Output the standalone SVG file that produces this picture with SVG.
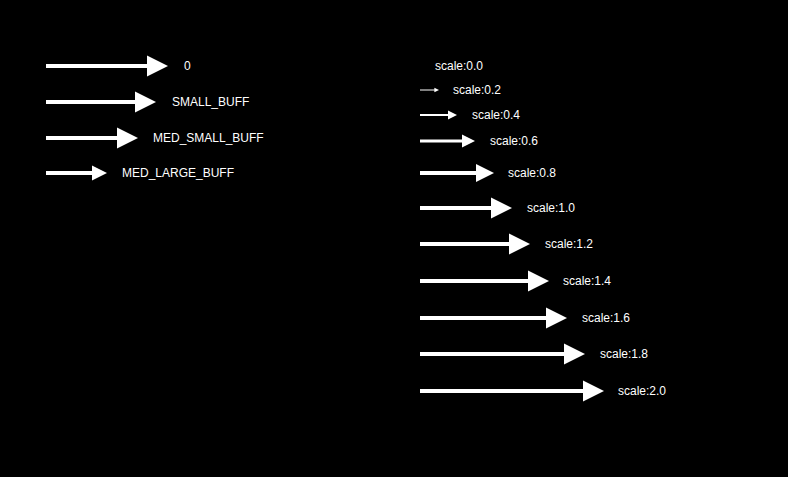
<svg xmlns="http://www.w3.org/2000/svg" width="788" height="477" viewBox="0 0 788 477">
<style>
.ln{stroke:#fff;stroke-width:4;fill:none}
.hd{fill:#fff}
text{font-family:"Liberation Sans",Arial,sans-serif;font-size:12px;fill:#fff}
</style>
<rect width="788" height="477" fill="#000"/>
<g id="buff-0"><line class="ln" x1="46" y1="66" x2="148" y2="66"/><polygon class="hd" points="147,55.5 168,66 147,76.5"/><text x="184" y="70.3">0</text></g>
<g id="buff-small"><line class="ln" x1="46" y1="102" x2="136" y2="102"/><polygon class="hd" points="135,91.5 156,102 135,112.5"/><text x="172" y="106.3">SMALL_BUFF</text></g>
<g id="buff-med-small"><line class="ln" x1="46" y1="138" x2="118" y2="138"/><polygon class="hd" points="117,127.5 138,138 117,148.5"/><text x="153" y="142.3">MED_SMALL_BUFF</text></g>
<g id="buff-med-large"><line class="ln" x1="46" y1="173" x2="93" y2="173"/><polygon class="hd" points="92,165.5 107,173 92,180.5"/><text x="122" y="177.3">MED_LARGE_BUFF</text></g>

<g id="scale-00"><text x="435" y="70.3">scale:0.0</text></g>
<g id="scale-02"><line class="ln" style="stroke-width:1" x1="420" y1="90" x2="435" y2="90"/><polygon class="hd" points="434.4,87.7 439,90 434.4,92.3"/><text x="453" y="94.3">scale:0.2</text></g>
<g id="scale-04"><line class="ln" style="stroke-width:2" x1="420" y1="115" x2="449" y2="115"/><polygon class="hd" points="448,110.5 457,115 448,119.5"/><text x="472" y="119.3">scale:0.4</text></g>
<g id="scale-06"><line class="ln" style="stroke-width:3" x1="420" y1="141" x2="463" y2="141"/><polygon class="hd" points="462,134.5 475,141 462,147.5"/><text x="490" y="145.3">scale:0.6</text></g>
<g id="scale-08"><line class="ln" x1="420" y1="173" x2="477" y2="173"/><polygon class="hd" points="476,164 494,173 476,182"/><text x="508" y="177.3">scale:0.8</text></g>
<g id="scale-10"><line class="ln" x1="420" y1="208" x2="492" y2="208"/><polygon class="hd" points="491,197.5 512,208 491,218.5"/><text x="527" y="212.3">scale:1.0</text></g>
<g id="scale-12"><line class="ln" x1="420" y1="244" x2="510" y2="244"/><polygon class="hd" points="509,233.5 530,244 509,254.5"/><text x="545" y="248.3">scale:1.2</text></g>
<g id="scale-14"><line class="ln" x1="420" y1="281" x2="529" y2="281"/><polygon class="hd" points="528,270.5 549,281 528,291.5"/><text x="563" y="285.3">scale:1.4</text></g>
<g id="scale-16"><line class="ln" x1="420" y1="318" x2="547" y2="318"/><polygon class="hd" points="546,307.5 567,318 546,328.5"/><text x="582" y="322.3">scale:1.6</text></g>
<g id="scale-18"><line class="ln" x1="420" y1="354" x2="565" y2="354"/><polygon class="hd" points="564,343.5 585,354 564,364.5"/><text x="600" y="358.3">scale:1.8</text></g>
<g id="scale-20"><line class="ln" x1="420" y1="391" x2="584" y2="391"/><polygon class="hd" points="583,380.5 604,391 583,401.5"/><text x="618" y="395.3">scale:2.0</text></g>
</svg>
